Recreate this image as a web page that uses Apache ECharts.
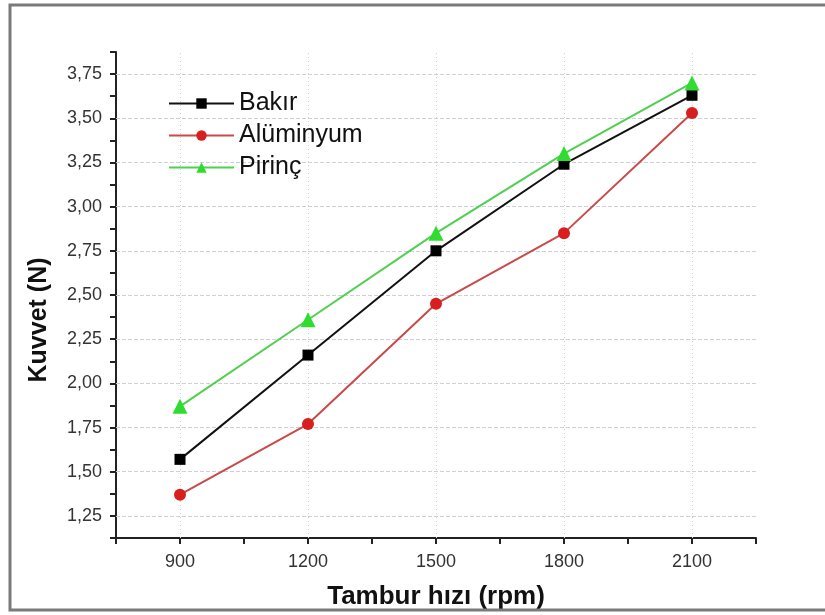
<!DOCTYPE html>
<html>
<head>
<meta charset="utf-8">
<script src="https://cdn.jsdelivr.net/npm/echarts@6/dist/echarts.min.js"></script>
<style>
    html, body { margin: 0; padding: 0; background: #fff; }
    #chart { width: 825px; height: 615px; }
</style>
</head>
<body>
<div id="chart"></div>
<script>
var speeds = [900, 1200, 1500, 1800, 2100];
var bakir = [1.57, 2.16, 2.75, 3.24, 3.63];
var aluminyum = [1.37, 1.77, 2.45, 2.85, 3.53];
var pirinc = [1.87, 2.36, 2.85, 3.30, 3.70];
var yTicks = [1.25, 1.50, 1.75, 2.00, 2.25, 2.50, 2.75, 3.00, 3.25, 3.50, 3.75];

var font = 'Arial, "Liberation Sans", sans-serif';

function pairs(vals) {
    return speeds.map(function (s, i) { return [s, vals[i]]; });
}

var chart = echarts.init(document.getElementById('chart'));

chart.setOption({
    animation: false,
    backgroundColor: '#fff',
    graphic: [{
        type: 'rect',
        shape: { x: 10, y: 5, width: 830, height: 605 },
        style: { fill: 'none', stroke: '#7a7a7a', lineWidth: 3 },
        silent: true,
        z: 100
    }],
    grid: { left: 116, right: 69, top: 52, bottom: 77 },
    legend: {
        orient: 'vertical',
        left: 163,
        top: 86,
        itemWidth: 65,
        itemHeight: 13,
        itemGap: 7,
        textStyle: { fontFamily: font, fontSize: 25, color: '#111', lineHeight: 25 },
        data: ['Bakır', 'Alüminyum', 'Pirinç']
    },
    xAxis: {
        type: 'value',
        min: 750,
        max: 2250,
        interval: 150,
        name: 'Tambur hızı (rpm)',
        nameLocation: 'middle',
        nameGap: 46,
        nameTextStyle: { fontFamily: font, fontSize: 26, fontWeight: 'bold', color: '#111' },
        axisLine: { lineStyle: { color: '#222', width: 2 } },
        axisTick: { length: 6, lineStyle: { color: '#222', width: 2 } },
        axisLabel: {
            fontFamily: font, fontSize: 18, color: '#333', margin: 15,
            showMinLabel: true, showMaxLabel: true,
            formatter: function (v) { return speeds.indexOf(v) >= 0 ? String(v) : ''; }
        },
        splitLine: { show: false }
    },
    yAxis: {
        type: 'value',
        min: 1.125,
        max: 3.875,
        interval: 0.125,
        name: 'Kuvvet (N)',
        nameLocation: 'middle',
        nameGap: 64,
        nameTextStyle: { fontFamily: font, fontSize: 25, fontWeight: 'bold', color: '#111', padding: [0, 50, 0, 0] },
        axisLine: { show: true, lineStyle: { color: '#222', width: 2 } },
        axisTick: { length: 6, lineStyle: { color: '#222', width: 2 } },
        axisLabel: {
            fontFamily: font, fontSize: 18, color: '#333', margin: 14,
            formatter: function (v) {
                var r = Math.round(v * 100) / 100;
                if (yTicks.indexOf(r) < 0) return '';
                return r.toFixed(2).replace('.', ',');
            }
        },
        splitLine: { show: false }
    },
    series: [{
        // grid lines only at the labelled values, kept under the data
        name: 'grid',
        type: 'line',
        data: [],
        z: 1,
        silent: true,
        markLine: {
            z: 1,
            silent: true,
            symbol: 'none',
            label: { show: false },
            data: yTicks.map(function (v) {
                return { yAxis: v, lineStyle: { color: '#cfcfd8', type: [4, 2], width: 1 } };
            }).concat(speeds.map(function (s) {
                return { xAxis: s, lineStyle: { color: '#cfcfd8', type: [1, 3], width: 1 } };
            }))
        }
    }, {
        name: 'Bakır',
        type: 'line',
        data: pairs(bakir),
        symbol: 'rect',
        symbolSize: 11,
        itemStyle: { color: '#000' },
        lineStyle: { color: '#111', width: 2 },
        z: 3
    }, {
        name: 'Alüminyum',
        type: 'line',
        data: pairs(aluminyum),
        symbol: 'circle',
        symbolSize: 12,
        itemStyle: { color: '#d81e1e' },
        lineStyle: { color: '#c84a4a', width: 2 },
        z: 3
    }, {
        name: 'Pirinç',
        type: 'line',
        data: pairs(pirinc),
        symbol: 'triangle',
        symbolSize: 15,
        itemStyle: { color: '#2fdc2f' },
        lineStyle: { color: '#4fd04f', width: 2 },
        z: 3
    }]
});
</script>
</body>
</html>
